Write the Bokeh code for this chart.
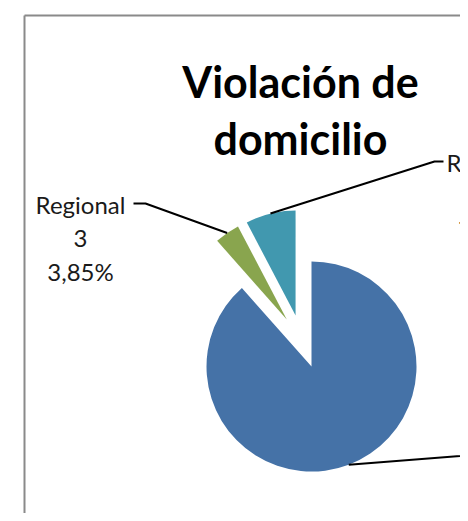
import math
from bokeh.plotting import figure
from bokeh.models import Range1d, ColumnDataSource
from bokeh.core.properties import value
from bokeh.embed import file_html
from bokeh.resources import INLINE

# ---------------- data ----------------
title_lines = ["Violación de", "domicilio"]
categories = ["Regional 1", "Regional 2", "Regional 3", "Regional 4", "Regional 5"]
counts = [23, 0, 1, 0, 2]
colors = ["#4572A7", "#AA4643", "#89A54E", "#71588F", "#4198AF"]

# ---------------- layout (picture pixels) ----------------
W, H = 460, 513
X0, Y0 = 0, 0              # where the figure lands in the picture
CX, CY = 301.5, 341.0      # pie centre in the picture
RADIUS = 105.0
EXPLODE = 26.8
FONT = "Lato"
LABEL_SIZE = 24
LINE_STEP = 33.5
# per-category label placement: (elbow x, elbow y, end x, text centre x, first baseline y)
label_layout = {
    "Regional 1": (490, 453, 500, 560, 460),
    "Regional 3": (145, 203, 133, 80, 204),
    "Regional 5": (434, 161, 443, 491, 162),
}


def dx(px):
    return px - CX


def dy(py):
    return CY - py


p = figure(width=W, height=H,
           x_range=Range1d(dx(X0), dx(X0 + W)), y_range=Range1d(dy(Y0 + H), dy(Y0)),
           min_border=0, toolbar_location=None, output_backend="svg",
           x_axis_type=None, y_axis_type=None, outline_line_color=None)
p.background_fill_color = "white"
p.border_fill_color = "white"

# chart area border (only top and left visible in the crop)
p.segment(x0=[dx(24), dx(24)], y0=[dy(15), dy(15)], x1=[dx(900), dx(24)], y1=[dy(15), dy(900)],
          line_color="#8a8a8a", line_width=2)

# ---------------- pie ----------------
total = float(sum(counts))
wx, wy, ws, we, wc = [], [], [], [], []
lead_xs, lead_ys = [], []
tx, ty, tt = [], [], []
cum = 0.0
for name, v, col in zip(categories, counts, colors):
    a = cum / total
    b = (cum + v) / total
    cum += v
    if v == 0:
        continue
    mid = math.pi * (a + b)           # clockwise from 12 o'clock
    ox = EXPLODE * math.sin(mid)
    oy = EXPLODE * math.cos(mid)
    wx.append(ox)
    wy.append(oy)
    ws.append(math.pi / 2 - 2 * math.pi * b)
    we.append(math.pi / 2 - 2 * math.pi * a)
    wc.append(col)
    # leader line from slice edge
    ax = ox + RADIUS * math.sin(mid)
    ay = oy + RADIUS * math.cos(mid)
    ex, ey, endx, tcx, tby = label_layout[name]
    lead_xs.append([ax, dx(ex), dx(endx)])
    lead_ys.append([ay, dy(ey), dy(ey)])
    pct = f"{100.0 * v / total:.2f}%".replace(".", ",")
    lines = name.split(" ") + [pct]
    for i, ln in enumerate(lines):
        tx.append(dx(tcx))
        ty.append(dy(tby + i * LINE_STEP))
        tt.append(ln)

p.wedge(x="x", y="y", radius=RADIUS, start_angle="s", end_angle="e",
        fill_color="c", line_color=None,
        source=ColumnDataSource(dict(x=wx, y=wy, s=ws, e=we, c=wc)))

p.multi_line(xs=lead_xs, ys=lead_ys, line_color="black", line_width=2)

p.text(x="x", y="y", text="t", source=ColumnDataSource(dict(x=tx, y=ty, t=tt)),
       text_font=value(FONT), text_font_size=value(f"{LABEL_SIZE}px"),
       text_align="center", text_baseline="alphabetic", text_color="#1a1a1a")

# ---------------- title ----------------
title_base = [81, 138]
p.text(x=[dx(300)] * len(title_lines), y=[dy(b) for b in title_base], text=title_lines,
       text_font=value(FONT), text_font_size=value("43px"), text_font_style="bold",
       text_align="center", text_baseline="alphabetic", text_color="black")

open("out.html", "w").write(file_html(p, INLINE))
